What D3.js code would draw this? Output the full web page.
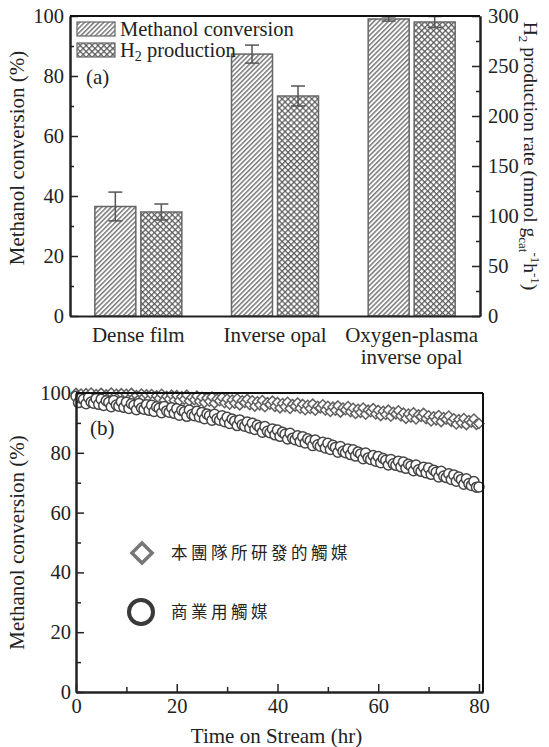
<!DOCTYPE html>
<html><head><meta charset="utf-8">
<script src="https://cdn.jsdelivr.net/npm/d3@7"></script>
<style>
body{margin:0;background:#fff;}
text{font-family:"Liberation Serif","Times New Roman",serif;fill:#222;}
</style></head>
<body>
<svg id="c" width="549" height="747"></svg>
<script>
// ---------- Data (a) ----------
const categories = ["Dense film", "Inverse opal", "Oxygen-plasma|inverse opal"];
const methanolConv = [36.5, 87.3, 99.0];
const methanolErr = [4.8, 3.0, 0.7];
const h2Rate = [104, 220, 294];
const h2Err = [8, 10, 5.5];
const leftTicks = [0, 20, 40, 60, 80, 100];
const rightTicks = [0, 50, 100, 150, 200, 250, 300];

// ---------- Data (b) ----------
const timeStep = 0.5; // hr between samples, 0..80
const ourCatalyst = [
99.9,98.6,99.7,98.3,99.8,99.0,100.0,98.5,99.5,98.8,
99.9,98.2,99.4,98.7,100.0,98.4,99.6,98.9,99.8,98.1,
99.6,98.0,99.9,98.4,99.2,97.9,99.7,98.6,99.4,97.8,
99.5,97.7,99.1,98.2,99.6,97.6,98.9,98.0,99.3,97.5,
99.2,97.4,98.8,97.9,99.3,97.3,98.5,97.7,99.0,97.2,
98.6,96.8,98.3,97.2,98.7,96.6,98.0,97.4,98.5,96.7,
98.0,96.2,97.7,96.6,98.1,96.0,97.4,96.8,97.9,96.1,
97.4,95.6,97.1,96.0,97.5,95.4,96.8,96.2,97.3,95.5,
96.8,95.0,96.5,95.4,96.9,94.8,96.2,95.6,96.7,94.9,
96.2,94.4,95.9,94.8,96.3,94.2,95.6,95.0,96.1,94.3,
95.6,93.8,95.3,94.2,95.7,93.6,95.0,94.4,95.5,93.7,
94.9,93.1,94.6,93.5,95.0,92.9,94.3,93.7,94.8,93.0,
94.2,92.4,93.9,92.8,94.3,92.2,93.6,93.0,94.1,92.3,
93.3,91.5,93.0,91.9,93.4,91.3,92.7,92.1,93.2,91.4,
92.4,90.6,92.1,91.0,92.5,90.4,91.8,91.2,92.3,90.5,
91.4,89.6,91.1,90.0,91.5,89.4,90.8,90.2,91.3,89.5,
89.8];
const commercialCatalyst = [
98.9,96.8,98.3,97.9,96.4,98.5,97.0,96.6,98.1,96.2,
97.9,95.8,97.4,96.9,95.4,97.5,96.0,95.6,97.1,95.2,
96.9,94.8,96.4,95.9,94.4,96.5,95.0,94.6,96.1,94.2,
95.9,93.8,95.4,94.9,93.4,95.5,94.0,93.6,95.1,93.2,
94.7,92.6,94.2,93.7,92.2,94.3,92.8,92.4,93.9,92.0,
93.5,91.4,93.0,92.4,90.9,92.9,91.4,90.9,92.4,90.4,
91.9,89.8,91.3,90.6,89.1,91.0,89.4,88.9,90.3,88.3,
89.9,87.8,89.2,88.5,86.9,88.8,87.2,86.7,88.0,86.0,
87.6,85.5,86.9,86.2,84.6,86.5,84.9,84.4,85.7,83.8,
85.4,83.3,84.7,84.0,82.4,84.3,82.7,82.2,83.5,81.6,
83.2,81.1,82.5,81.8,80.2,82.1,80.5,80.0,81.3,79.4,
81.0,78.9,80.3,79.6,78.0,79.9,78.3,77.8,79.1,77.2,
78.8,76.7,78.1,77.5,75.9,77.8,76.3,75.8,77.2,75.3,
76.9,74.8,76.2,75.6,74.0,75.9,74.3,73.8,75.2,73.3,
74.9,72.8,74.2,73.5,71.9,73.8,72.2,71.7,73.0,71.1,
72.6,70.5,71.9,71.1,69.5,71.3,69.7,69.1,70.4,68.5,
68.6];
const xTicksB = [0, 20, 40, 60, 80];
const yTicksB = [0, 20, 40, 60, 80, 100];
const legendB = ["本團隊所研發的觸媒", "商業用觸媒"];

const svg = d3.select("#c");
const defs = svg.append("defs");
const ph = defs.append("pattern").attr("id","hatch").attr("patternUnits","userSpaceOnUse")
  .attr("width",3.4).attr("height",3.4).attr("patternTransform","rotate(45)");
ph.append("rect").attr("width",3.4).attr("height",3.4).attr("fill","#fff");
ph.append("line").attr("x1",0.8).attr("x2",0.8).attr("y1",0).attr("y2",3.4).attr("stroke","#4a4a4a").attr("stroke-width",1.1);
const pc = defs.append("pattern").attr("id","cross").attr("patternUnits","userSpaceOnUse")
  .attr("width",4.2).attr("height",4.2).attr("patternTransform","rotate(45)");
pc.append("rect").attr("width",4.2).attr("height",4.2).attr("fill","#fff");
pc.append("line").attr("x1",0.7).attr("x2",0.7).attr("y1",0).attr("y2",4.2).attr("stroke","#555").attr("stroke-width",1.2);
pc.append("line").attr("y1",0.7).attr("y2",0.7).attr("x1",0).attr("x2",4.2).attr("stroke","#555").attr("stroke-width",1.2);

// ---------- Chart (a) ----------
const A = {l:70, r:480, t:16, b:316};
const xA = d3.scaleBand().domain(categories).range([A.l, A.r]).paddingInner(0).paddingOuter(0);
const yA = d3.scaleLinear().domain([0,100]).range([A.b, A.t]);
const yA2 = d3.scaleLinear().domain([0,300]).range([A.b, A.t]);
const barW = 41, gap = 5;

const gA = svg.append("g");
categories.forEach((c,i)=>{
  const cx = xA(c) + xA.bandwidth()/2;
  const x1 = cx - gap/2 - barW, x2 = cx + gap/2;
  gA.append("rect").attr("x",x1).attr("y",yA(methanolConv[i])).attr("width",barW)
    .attr("height",yA(0)-yA(methanolConv[i])).attr("fill","url(#hatch)").attr("stroke","#666").attr("stroke-width",1.5);
  gA.append("rect").attr("x",x2).attr("y",yA2(h2Rate[i])).attr("width",barW)
    .attr("height",yA2(0)-yA2(h2Rate[i])).attr("fill","url(#cross)").attr("stroke","#666").attr("stroke-width",1.5);
  const eb = (x, top, bot) => {
    gA.append("line").attr("x1",x).attr("x2",x).attr("y1",top).attr("y2",bot).attr("stroke","#555").attr("stroke-width",1.5);
    [top,bot].forEach(y=>gA.append("line").attr("x1",x-7).attr("x2",x+7).attr("y1",y).attr("y2",y).attr("stroke","#555").attr("stroke-width",1.5));
  };
  eb(x1+barW/2, yA(methanolConv[i]+methanolErr[i]), yA(methanolConv[i]-methanolErr[i]));
  eb(x2+barW/2, yA2(h2Rate[i]+h2Err[i]), yA2(h2Rate[i]-h2Err[i]));
  c.split("|").forEach((s,k)=>{
    gA.append("text").attr("x",cx).attr("y",342+k*22).attr("text-anchor","middle").attr("font-size",21).text(s);
  });
});

svg.append("g").attr("transform",`translate(${A.l},0)`)
  .call(d3.axisLeft(yA).tickValues(leftTicks).tickSize(-8).tickPadding(6).tickSizeOuter(0));
svg.append("g").attr("transform",`translate(${A.l},0)`)
  .call(d3.axisLeft(yA).tickValues([10,30,50,70,90]).tickSize(-4).tickFormat("").tickSizeOuter(0));
svg.append("g").attr("transform",`translate(${A.r},0)`)
  .call(d3.axisRight(yA2).tickValues(rightTicks).tickSize(-8).tickPadding(8).tickSizeOuter(0));
svg.append("g").attr("transform",`translate(${A.r},0)`)
  .call(d3.axisRight(yA2).tickValues([25,75,125,175,225,275]).tickSize(-4).tickFormat("").tickSizeOuter(0));
svg.append("g").attr("transform",`translate(0,${A.b})`)
  .call(d3.axisBottom(xA).tickSize(0).tickFormat("").tickSizeOuter(0));
svg.append("line").attr("x1",A.l).attr("x2",A.r).attr("y1",A.t).attr("y2",A.t).attr("stroke","#111").attr("stroke-width",2);

svg.append("text").attr("transform",`translate(24,${(A.t+A.b)/2 - 8}) rotate(-90)`).attr("text-anchor","middle")
  .attr("font-size",21).text("Methanol conversion (%)");
const rt = svg.append("text").attr("transform",`translate(524,${(A.t+A.b)/2-10}) rotate(90)`).attr("text-anchor","middle").attr("font-size",19.5);
rt.append("tspan").text("H");
rt.append("tspan").attr("font-size",13).attr("dy",5).text("2");
rt.append("tspan").attr("dy",-5).text(" production rate (mmol g");
rt.append("tspan").attr("font-size",13).attr("dy",5).text("cat");
rt.append("tspan").attr("font-size",13).attr("dy",-12).text("-1");
rt.append("tspan").attr("dy",7).text("h");
rt.append("tspan").attr("font-size",13).attr("dy",-7).text("-1");
rt.append("tspan").attr("dy",7).text(")");

const legA = [["Methanol conversion","url(#hatch)"],["H2 production","url(#cross)"]];
legA.forEach((d,i)=>{
  const y = 22 + i*21;
  svg.append("rect").attr("x",77).attr("y",y).attr("width",38).attr("height",14).attr("fill",d[1]).attr("stroke","#666").attr("stroke-width",1.2);
  const t = svg.append("text").attr("x",120).attr("y",y+14).attr("font-size",20.5);
  if (i===0) t.text(d[0]);
  else { t.append("tspan").text("H"); t.append("tspan").attr("font-size",14).attr("dy",4).text("2"); t.append("tspan").attr("dy",-4).text(" production"); }
});
svg.append("text").attr("x",86).attr("y",84).attr("font-size",21).text("(a)");

// ---------- Chart (b) ----------
const B = {l:76, r:483, t:393, b:692};
const xB = d3.scaleLinear().domain([0,80.8]).range([B.l,B.r]);
const yB = d3.scaleLinear().domain([0,100]).range([B.b,B.t]);
const gB = svg.append("g");
const dia = d3.symbol().type(d3.symbolDiamond2).size(62);
gB.selectAll(".d").data(ourCatalyst).join("path")
  .attr("transform",(v,i)=>`translate(${xB(i*timeStep)},${yB(v)})`).attr("d",dia)
  .attr("fill","#fff").attr("stroke","#606060").attr("stroke-width",1.5);
gB.selectAll(".c").data(commercialCatalyst).join("circle")
  .attr("cx",(v,i)=>xB(i*timeStep)).attr("cy",v=>yB(v)).attr("r",5)
  .attr("fill","#fff").attr("stroke","#454545").attr("stroke-width",1.5);

svg.append("g").attr("transform",`translate(0,${B.b})`)
  .call(d3.axisBottom(xB).tickValues(xTicksB).tickSize(-8).tickPadding(6).tickSizeOuter(0));
svg.append("g").attr("transform",`translate(0,${B.b})`)
  .call(d3.axisBottom(xB).tickValues([10,30,50,70]).tickSize(-5).tickFormat("").tickSizeOuter(0));
svg.append("g").attr("transform",`translate(${B.l},0)`)
  .call(d3.axisLeft(yB).tickValues(yTicksB).tickSize(-8).tickPadding(5).tickSizeOuter(0));
svg.append("g").attr("transform",`translate(${B.l},0)`)
  .call(d3.axisLeft(yB).tickValues([10,30,50,70,90]).tickSize(-5).tickFormat("").tickSizeOuter(0));
svg.append("line").attr("x1",B.l).attr("x2",B.r).attr("y1",B.t).attr("y2",B.t).attr("stroke","#111").attr("stroke-width",2);
svg.append("line").attr("x1",B.r).attr("x2",B.r).attr("y1",B.t).attr("y2",B.b).attr("stroke","#111").attr("stroke-width",2);

svg.selectAll(".domain").attr("stroke","#222").attr("stroke-width",2);
svg.selectAll(".tick line").attr("stroke","#222").attr("stroke-width",1.5);
svg.selectAll(".tick text").attr("font-size",20.5).attr("font-family","Liberation Serif, serif").attr("fill","#222");

svg.append("text").attr("transform",`translate(24,${(B.t+B.b)/2}) rotate(-90)`).attr("text-anchor","middle")
  .attr("font-size",21).text("Methanol conversion (%)");
svg.append("text").attr("x",(B.l+B.r)/2 - 3).attr("y",743).attr("text-anchor","middle").attr("font-size",21).text("Time on Stream (hr)");
svg.append("text").attr("x",90).attr("y",435).attr("font-size",21).text("(b)");

svg.append("path").attr("transform","translate(142,553)").attr("d",d3.symbol().type(d3.symbolDiamond2).size(260))
  .attr("fill","none").attr("stroke","#777").attr("stroke-width",3.5);
svg.append("circle").attr("cx",141).attr("cy",612).attr("r",12).attr("fill","none").attr("stroke","#3a3a3a").attr("stroke-width",4);
legendB.forEach((s,i)=>{
  svg.append("text").attr("x",171).attr("y",559+i*59).attr("font-size",16.5).attr("letter-spacing",3.5)
    .style("font-family","'Noto Sans CJK TC','Noto Sans CJK SC',sans-serif").attr("fill","#333").text(s);
});
</script>
</body></html>
